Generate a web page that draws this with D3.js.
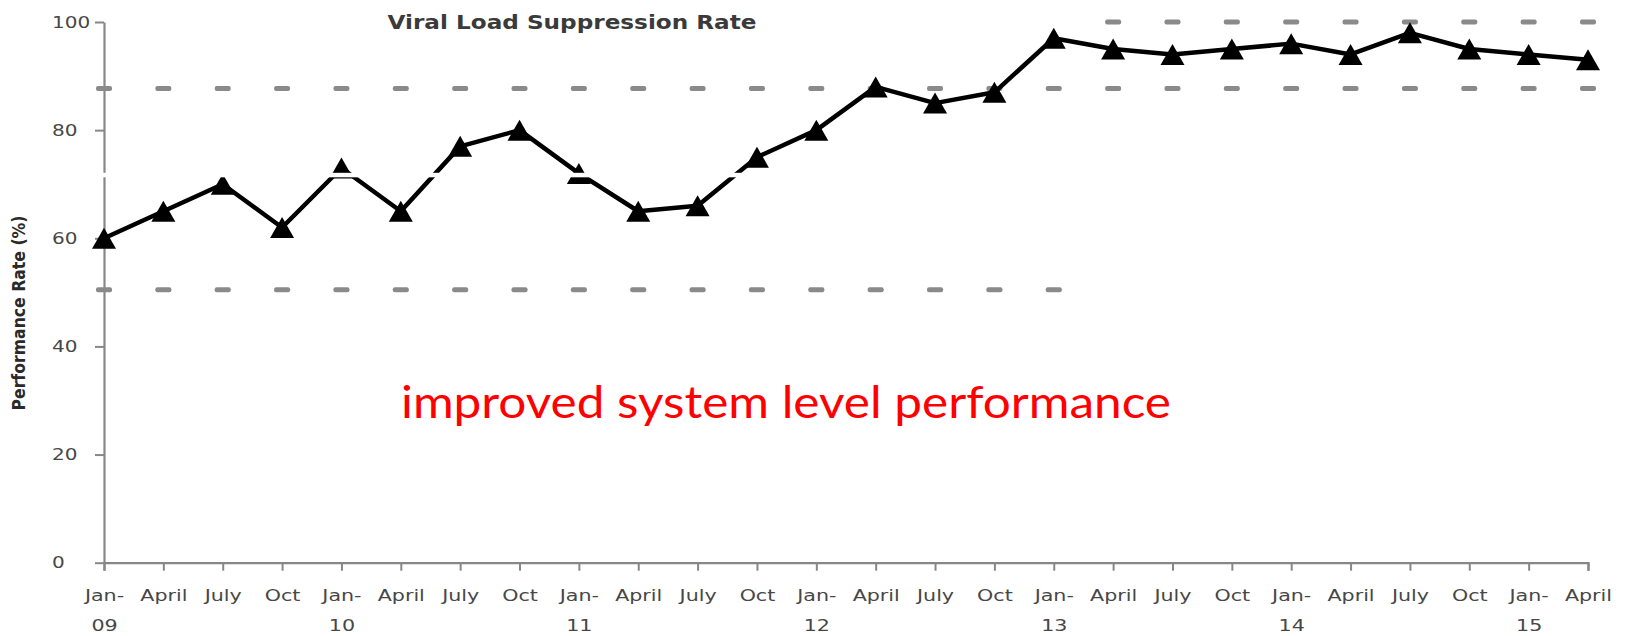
<!DOCTYPE html>
<html>
<head>
<meta charset="utf-8">
<script src="https://cdn.jsdelivr.net/npm/d3@7"></script>
<style>
  body { margin: 0; background: #fff; }
  svg { display: block; }
</style>
</head>
<body>
<div class="box"></div>
<script>
const months = ["Jan-09", "April", "July", "Oct", "Jan-10", "April", "July", "Oct",
                "Jan-11", "April", "July", "Oct", "Jan-12", "April", "July", "Oct",
                "Jan-13", "April", "July", "Oct", "Jan-14", "April", "July", "Oct",
                "Jan-15", "April"]
const rates = [60, 65, 70, 62, 73, 65, 77, 80, 72, 65, 66, 75, 80,
               88, 85, 87, 97, 95, 94, 95, 96, 94, 98, 95, 94, 93]
// control limits, one value per quarter (null = no marker)
const upperLimit = [87.7, 87.7, 87.7, 87.7, 87.7, 87.7, 87.7, 87.7, 87.7, 87.7, 87.7, 87.7, 87.7,
                    87.7, 87.7, 87.7, 87.7, 100, 100, 100, 100, 100, 100, 100, 100, 100]
const lowerLimit = [50.5, 50.5, 50.5, 50.5, 50.5, 50.5, 50.5, 50.5, 50.5, 50.5, 50.5, 50.5, 50.5,
                    50.5, 50.5, 50.5, 50.5, 87.7, 87.7, 87.7, 87.7, 87.7, 87.7, 87.7, 87.7, 87.7]
const yTicks = [0, 20, 40, 60, 80, 100]

const boxWidth = 1631
const boxHeight = 636
const stretch = 1.25   // the source picture is wider than tall, text is stretched too
const axisColor = '#878787'
const textColor = '#474747'

const svg = d3.select('.box')
              .append('svg')
              .attr('width', boxWidth)
              .attr('height', boxHeight)

const x = d3.scalePoint()
            .domain(d3.range(months.length))
            .range([104, 1588])
const y = d3.scaleLinear()
            .domain([0, 100])
            .range([562.7, 22])

// y axis
const gy = svg.append('g')
              .attr('transform', `translate(${x(0)},0)`)
              .call(d3.axisLeft(y).tickValues(yTicks).tickSize(9).tickSizeOuter(0))
gy.select('.domain').attr('stroke', axisColor).attr('stroke-width', 2.2)
gy.selectAll('.tick line').attr('stroke', axisColor).attr('stroke-width', 2)
gy.selectAll('.tick text')
  .attr('x', -52 / stretch)
  .attr('text-anchor', 'start')
  .attr('transform', `scale(${stretch},1)`)
  .attr('fill', textColor)
  .style('font-family', 'DejaVu Sans')
  .style('font-size', '16px')

// x axis
const gx = svg.append('g')
              .attr('transform', `translate(0,${y(0)})`)
              .call(d3.axisBottom(x).tickSize(8).tickSizeOuter(8).tickFormat(i => months[i]))
gx.select('.domain').attr('stroke', axisColor).attr('stroke-width', 2.2)
gx.selectAll('.tick line').attr('stroke', axisColor).attr('stroke-width', 2)
gx.selectAll('.tick text').each(function (i) {
    const label = months[i]
    const parts = label.startsWith('Jan-') ? ['Jan-', label.slice(4)] : [label]
    const t = d3.select(this)
    t.text(null)
     .attr('y', null).attr('dy', null)
     .attr('transform', `scale(${stretch},1)`)
     .attr('fill', textColor)
     .style('font-family', 'DejaVu Sans')
     .style('font-size', '16.5px')
    parts.forEach((p, k) => {
        t.append('tspan').attr('x', 0).attr('y', 38 + k * 30).text(p)
    })
})

// control limit dashes
const dash = { w: 16, h: 5 }
function drawDashes(values) {
    svg.append('g')
       .selectAll('rect')
       .data(values.map((v, i) => [i, v]).filter(d => d[1] != null))
       .enter()
       .append('rect')
       .attr('x', d => x(d[0]) - dash.w / 2)
       .attr('y', d => y(d[1]) - dash.h / 2)
       .attr('width', dash.w)
       .attr('height', dash.h)
       .attr('rx', 2)
       .attr('fill', '#8a8a8a')
}
drawDashes(upperLimit)
drawDashes(lowerLimit)

// rate line
svg.append('path')
   .datum(rates)
   .attr('fill', 'none')
   .attr('stroke', '#000')
   .attr('stroke-width', 4.5)
   .attr('stroke-linejoin', 'round')
   .attr('d', d3.line().x((d, i) => x(i)).y(d => y(d)))

// triangle markers, centred on their box like the spreadsheet ones
const triangle = {
    draw(ctx, size) {
        const w = 24, h = 21
        ctx.moveTo(0, -h / 2)
        ctx.lineTo(w / 2, h / 2)
        ctx.lineTo(-w / 2, h / 2)
        ctx.closePath()
    }
}
svg.append('g')
   .selectAll('path')
   .data(rates).enter()
   .append('path')
   .attr('d', d3.symbol().type(triangle))
   .attr('fill', '#000')
   .attr('transform', (d, i) => `translate(${x(i)},${y(d)})`)

// thin white streak that crosses the source picture
svg.append('rect')
   .attr('x', 90).attr('y', 172.8)
   .attr('width', 660).attr('height', 4.5)
   .attr('fill', '#fff')

// title
svg.append('text')
   .attr('x', 572).attr('y', 28.5)
   .attr('text-anchor', 'middle')
   .attr('textLength', 369)
   .attr('lengthAdjust', 'spacingAndGlyphs')
   .attr('fill', '#3a3a3a')
   .style('font-family', 'DejaVu Sans')
   .style('font-weight', 'bold')
   .style('font-size', '20px')
   .text('Viral Load Suppression Rate')

// y label
svg.append('text')
   .attr('transform', `translate(19,313) rotate(-90) scale(1,${stretch})`)
   .attr('text-anchor', 'middle')
   .attr('dy', '0.36em')
   .attr('textLength', 195)
   .attr('lengthAdjust', 'spacingAndGlyphs')
   .attr('fill', '#2a2a2a')
   .style('font-family', 'DejaVu Sans')
   .style('font-weight', 'bold')
   .style('font-size', '13.5px')
   .text('Performance Rate (%)')

// red note
svg.append('text')
   .attr('x', 786).attr('y', 418)
   .attr('text-anchor', 'middle')
   .attr('textLength', 770)
   .attr('lengthAdjust', 'spacingAndGlyphs')
   .attr('fill', '#ff0000')
   .style('font-family', 'Lato')
   .style('font-size', '44px')
   .text('improved system level performance')
</script>
</body>
</html>
